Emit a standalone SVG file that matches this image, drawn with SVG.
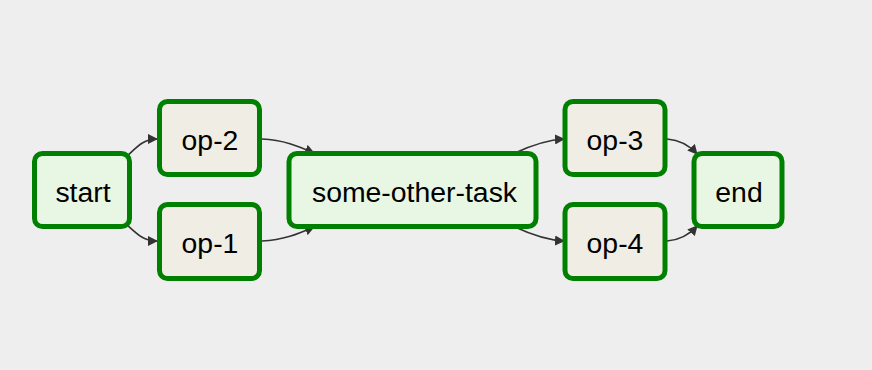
<svg xmlns="http://www.w3.org/2000/svg" width="872" height="370" viewBox="0 0 872 370">
<style>
.node rect{stroke:#008000;stroke-width:5}
.task rect{fill:#e8f7e4}
.op rect{fill:#f0ede4}
.node text{font-family:"Liberation Sans",Arial,Helvetica,sans-serif;font-size:28.4px;fill:#000;text-anchor:middle}
.edge{fill:none;stroke:#333;stroke-width:1.6}
</style>
<defs>
<marker id="arr" viewBox="0 0 10 10" refX="9" refY="5" markerWidth="10" markerHeight="10" markerUnits="userSpaceOnUse" orient="auto">
<path d="M0,0 L10,5 L0,10 z" fill="#333"/>
</marker>
</defs>
<rect width="872" height="370" fill="#eeeeee"/>
<g id="edges">
<path class="edge" marker-end="url(#arr)" d="M125,158 C137,147 143,139 157,139"/>
<path class="edge" marker-end="url(#arr)" d="M125,223 C137,234 143,241 157,241"/>
<path class="edge" marker-end="url(#arr)" d="M262,139 C285,140 300,147 314,153"/>
<path class="edge" marker-end="url(#arr)" d="M262,241 C285,240 300,233 314,227"/>
<path class="edge" marker-end="url(#arr)" d="M515,153 C530,146 545,140 564,139"/>
<path class="edge" marker-end="url(#arr)" d="M515,227 C530,234 545,240 564,241"/>
<path class="edge" marker-end="url(#arr)" d="M667,139 C680,140 690,146 697,154"/>
<path class="edge" marker-end="url(#arr)" d="M667,241 C680,240 690,234 697,226"/>
</g>
<g id="start" class="node task"><rect x="34.5" y="153.5" width="95" height="73" rx="8"/><text x="83" y="201.5">start</text></g>
<g id="op-2" class="node op"><rect x="159.5" y="101.5" width="100" height="73" rx="8"/><text x="210" y="149.5">op-2</text></g>
<g id="op-1" class="node op"><rect x="159.5" y="204.5" width="100" height="74" rx="8"/><text x="210" y="253">op-1</text></g>
<g id="some-other-task" class="node task"><rect x="289" y="153.5" width="247" height="73" rx="8"/><text x="414.5" y="201.5">some-other-task</text></g>
<g id="op-3" class="node op"><rect x="565" y="101.5" width="100" height="73" rx="8"/><text x="615" y="149.5">op-3</text></g>
<g id="op-4" class="node op"><rect x="565" y="204.5" width="100" height="74" rx="8"/><text x="615" y="253">op-4</text></g>
<g id="end" class="node task"><rect x="694" y="153.5" width="88" height="73" rx="8"/><text x="739" y="201.5">end</text></g>
</svg>
